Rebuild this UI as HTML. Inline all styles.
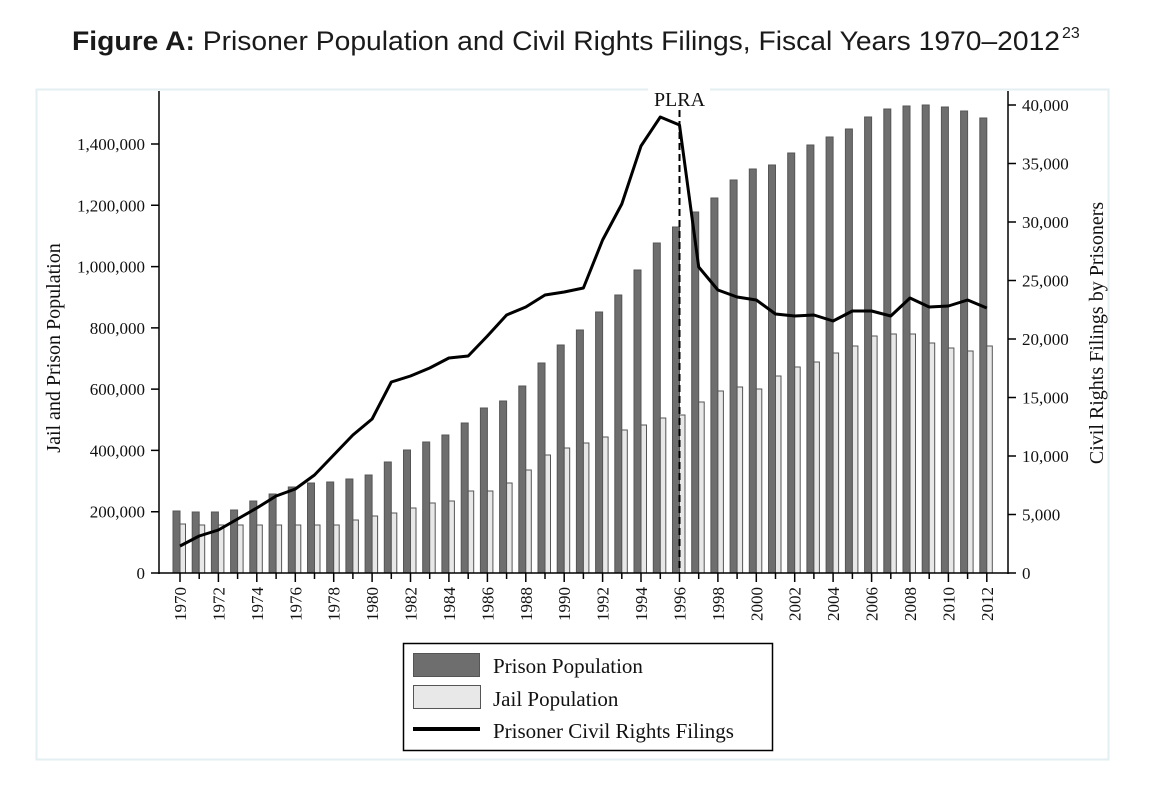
<!DOCTYPE html>
<html><head><meta charset="utf-8"><style>
html,body{margin:0;padding:0;background:#fff;}
svg{display:block;}
</style></head><body>
<svg width="1157" height="792" viewBox="0 0 1157 792" xmlns="http://www.w3.org/2000/svg">
<rect x="0" y="0" width="1157" height="792" fill="#fff"/>
<text x="72" y="50" font-family="Liberation Sans, sans-serif" font-size="27" fill="#1a1a1a" textLength="988" lengthAdjust="spacingAndGlyphs"><tspan font-weight="bold">Figure A:</tspan> Prisoner Population and Civil Rights Filings, Fiscal Years 1970–2012</tspan></text>
<text x="1062" y="38" font-family="Liberation Sans, sans-serif" font-size="16" fill="#1a1a1a">23</text>
<rect x="36.5" y="89.5" width="1072" height="670" fill="none" stroke="#e3eff1" stroke-width="2"/>
<g font-family="Liberation Serif, serif" font-size="17" fill="#111">
<g stroke="#555" stroke-width="1">
<g fill="#6e6e6e" id="pr">
<rect x="173" y="511" width="7" height="62"/><rect x="192.2" y="512" width="7" height="61"/><rect x="211.4" y="512" width="7" height="61"/><rect x="230.6" y="510" width="7" height="63"/><rect x="249.8" y="501" width="7" height="72"/><rect x="269.1" y="494" width="7" height="79"/><rect x="288.3" y="487" width="7" height="86"/><rect x="307.5" y="483" width="7" height="90"/><rect x="326.7" y="482" width="7" height="91"/><rect x="345.9" y="479" width="7" height="94"/><rect x="365.1" y="475" width="7" height="98"/><rect x="384.3" y="462" width="7" height="111"/><rect x="403.5" y="450" width="7" height="123"/><rect x="422.7" y="442" width="7" height="131"/><rect x="441.9" y="435" width="7" height="138"/><rect x="461.2" y="423" width="7" height="150"/><rect x="480.4" y="408" width="7" height="165"/><rect x="499.6" y="401" width="7" height="172"/><rect x="518.8" y="386" width="7" height="187"/><rect x="538" y="363" width="7" height="210"/><rect x="557.2" y="345" width="7" height="228"/><rect x="576.4" y="330" width="7" height="243"/><rect x="595.6" y="312" width="7" height="261"/><rect x="614.8" y="295" width="7" height="278"/><rect x="634" y="270" width="7" height="303"/><rect x="653.3" y="243" width="7" height="330"/><rect x="672.5" y="227" width="7" height="346"/><rect x="691.7" y="212" width="7" height="361"/><rect x="710.9" y="198" width="7" height="375"/><rect x="730.1" y="180" width="7" height="393"/><rect x="749.3" y="169" width="7" height="404"/><rect x="768.5" y="165" width="7" height="408"/><rect x="787.7" y="153" width="7" height="420"/><rect x="806.9" y="145" width="7" height="428"/><rect x="826.1" y="137" width="7" height="436"/><rect x="845.4" y="129" width="7" height="444"/><rect x="864.6" y="117" width="7" height="456"/><rect x="883.8" y="109" width="7" height="464"/><rect x="903" y="106" width="7" height="467"/><rect x="922.2" y="105" width="7" height="468"/><rect x="941.4" y="107" width="7" height="466"/><rect x="960.6" y="111" width="7" height="462"/><rect x="979.8" y="118" width="7" height="455"/>
</g>
<g fill="#e8e8e8">
<rect x="180" y="524" width="5.5" height="49"/><rect x="199.2" y="525" width="5.5" height="48"/><rect x="218.4" y="525" width="5.5" height="48"/><rect x="237.6" y="525" width="5.5" height="48"/><rect x="256.8" y="525" width="5.5" height="48"/><rect x="276.1" y="525" width="5.5" height="48"/><rect x="295.3" y="525" width="5.5" height="48"/><rect x="314.5" y="525" width="5.5" height="48"/><rect x="333.7" y="525" width="5.5" height="48"/><rect x="352.9" y="520" width="5.5" height="53"/><rect x="372.1" y="516" width="5.5" height="57"/><rect x="391.3" y="513" width="5.5" height="60"/><rect x="410.5" y="508" width="5.5" height="65"/><rect x="429.7" y="503" width="5.5" height="70"/><rect x="448.9" y="501" width="5.5" height="72"/><rect x="468.2" y="491" width="5.5" height="82"/><rect x="487.4" y="491" width="5.5" height="82"/><rect x="506.6" y="483" width="5.5" height="90"/><rect x="525.8" y="470" width="5.5" height="103"/><rect x="545" y="455" width="5.5" height="118"/><rect x="564.2" y="448" width="5.5" height="125"/><rect x="583.4" y="443" width="5.5" height="130"/><rect x="602.6" y="437" width="5.5" height="136"/><rect x="621.8" y="430" width="5.5" height="143"/><rect x="641" y="425" width="5.5" height="148"/><rect x="660.3" y="418" width="5.5" height="155"/><rect x="679.5" y="415" width="5.5" height="158"/><rect x="698.7" y="402" width="5.5" height="171"/><rect x="717.9" y="391" width="5.5" height="182"/><rect x="737.1" y="387" width="5.5" height="186"/><rect x="756.3" y="389" width="5.5" height="184"/><rect x="775.5" y="376" width="5.5" height="197"/><rect x="794.7" y="367" width="5.5" height="206"/><rect x="813.9" y="362" width="5.5" height="211"/><rect x="833.1" y="353" width="5.5" height="220"/><rect x="852.4" y="346" width="5.5" height="227"/><rect x="871.6" y="336" width="5.5" height="237"/><rect x="890.8" y="334" width="5.5" height="239"/><rect x="910" y="334" width="5.5" height="239"/><rect x="929.2" y="343" width="5.5" height="230"/><rect x="948.4" y="348" width="5.5" height="225"/><rect x="967.6" y="351" width="5.5" height="222"/><rect x="986.8" y="346" width="5.5" height="227"/>
</g>
</g>
<polyline fill="none" stroke="#000" stroke-width="3" stroke-linejoin="round" points="180,546 199.2,536 218.4,530 237.6,519 256.8,508 276.1,496 295.3,489 314.5,475 333.7,455 352.9,435 372.1,419 391.3,382 410.5,376 429.7,368 448.9,358 468.2,356 487.4,336 506.6,315 525.8,307 545,295 564.2,292 583.4,288 602.6,240 621.8,204 641,146 660.3,117 679.5,125 698.7,267 717.9,290 737.1,297 756.3,300 775.5,314 794.7,316 813.9,315 833.1,321 852.4,311 871.6,311 890.8,316 910,298 929.2,307 948.4,306 967.6,300 986.8,308"/>
<line x1="679.5" y1="110" x2="679.5" y2="573" stroke="#000" stroke-width="2" stroke-dasharray="7,4"/>
<rect x="648" y="88" width="62" height="6" fill="#fff"/>
<text x="679.5" y="106" text-anchor="middle" font-size="20">PLRA</text>
<g stroke="#000" stroke-width="1.5" fill="none">
<line x1="159" y1="91" x2="159" y2="574"/>
<line x1="1008" y1="91" x2="1008" y2="574"/>
<line x1="151" y1="573" x2="1016" y2="573"/>
<path d="M151 144H159M151 205.3H159M151 266.6H159M151 327.9H159M151 389.1H159M151 450.4H159M151 511.7H159"/>
<path d="M1008 105H1016M1008 163.5H1016M1008 222H1016M1008 280.5H1016M1008 339H1016M1008 397.5H1016M1008 456H1016M1008 514.5H1016"/>
<path d="M180 573v9M218.4 573v9M256.8 573v9M295.3 573v9M333.7 573v9M372.1 573v9M410.5 573v9M448.9 573v9M487.4 573v9M525.8 573v9M564.2 573v9M602.6 573v9M641 573v9M679.5 573v9M717.9 573v9M756.3 573v9M794.7 573v9M833.1 573v9M871.6 573v9M910 573v9M948.4 573v9M986.8 573v9"/>
<path d="M199.2 573v6M237.6 573v6M276.1 573v6M314.5 573v6M352.9 573v6M391.3 573v6M429.7 573v6M468.2 573v6M506.6 573v6M545 573v6M583.4 573v6M621.8 573v6M660.3 573v6M698.7 573v6M737.1 573v6M775.5 573v6M813.9 573v6M852.4 573v6M890.8 573v6M929.2 573v6M967.6 573v6"/>
</g>
<g text-anchor="end">
<text x="145" y="150">1,400,000</text><text x="145" y="211.3">1,200,000</text><text x="145" y="272.6">1,000,000</text><text x="145" y="333.9">800,000</text><text x="145" y="395.1">600,000</text><text x="145" y="456.4">400,000</text><text x="145" y="517.7">200,000</text><text x="145" y="579">0</text>
</g>
<g>
<text x="1022" y="111">40,000</text><text x="1022" y="169.5">35,000</text><text x="1022" y="228">30,000</text><text x="1022" y="286.5">25,000</text><text x="1022" y="345">20,000</text><text x="1022" y="403.5">15,000</text><text x="1022" y="462">10,000</text><text x="1022" y="520.5">5,000</text><text x="1022" y="579">0</text>
</g>
<g text-anchor="end">
<text transform="translate(186,587) rotate(-90)">1970</text><text transform="translate(224.4,587) rotate(-90)">1972</text><text transform="translate(262.8,587) rotate(-90)">1974</text><text transform="translate(301.3,587) rotate(-90)">1976</text><text transform="translate(339.7,587) rotate(-90)">1978</text><text transform="translate(378.1,587) rotate(-90)">1980</text><text transform="translate(416.5,587) rotate(-90)">1982</text><text transform="translate(454.9,587) rotate(-90)">1984</text><text transform="translate(493.4,587) rotate(-90)">1986</text><text transform="translate(531.8,587) rotate(-90)">1988</text><text transform="translate(570.2,587) rotate(-90)">1990</text><text transform="translate(608.6,587) rotate(-90)">1992</text><text transform="translate(647,587) rotate(-90)">1994</text><text transform="translate(685.5,587) rotate(-90)">1996</text><text transform="translate(723.9,587) rotate(-90)">1998</text><text transform="translate(762.3,587) rotate(-90)">2000</text><text transform="translate(800.7,587) rotate(-90)">2002</text><text transform="translate(839.1,587) rotate(-90)">2004</text><text transform="translate(877.6,587) rotate(-90)">2006</text><text transform="translate(916,587) rotate(-90)">2008</text><text transform="translate(954.4,587) rotate(-90)">2010</text><text transform="translate(992.8,587) rotate(-90)">2012</text>
</g>
<text transform="translate(60,348) rotate(-90)" text-anchor="middle" font-size="20">Jail and Prison Population</text>
<text transform="translate(1103,333) rotate(-90)" text-anchor="middle" font-size="20">Civil Rights Filings by Prisoners</text>
<rect x="403.5" y="643.5" width="369" height="107" fill="#fff" stroke="#000" stroke-width="1.5"/>
<rect x="413.5" y="653.5" width="66" height="23" fill="#6e6e6e" stroke="#555"/>
<rect x="413.5" y="685.5" width="67" height="23" fill="#e8e8e8" stroke="#555"/>
<line x1="413" y1="729" x2="480" y2="729" stroke="#000" stroke-width="4"/>
<g font-size="21">
<text x="493" y="673">Prison Population</text>
<text x="493" y="706">Jail Population</text>
<text x="493" y="738">Prisoner Civil Rights Filings</text>
</g>
</g>
</svg>
</body></html>
